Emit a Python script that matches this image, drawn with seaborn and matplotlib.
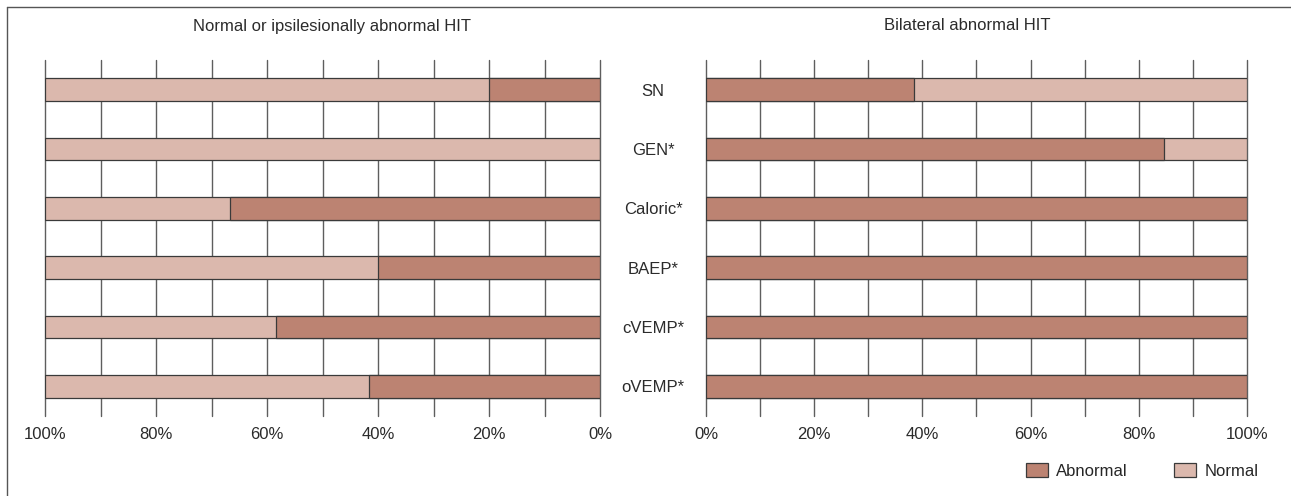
import matplotlib
matplotlib.use("Agg")
import matplotlib.pyplot as plt
import seaborn as sns
import pandas as pd
from matplotlib.patches import Patch
from matplotlib.lines import Line2D
from matplotlib.ticker import MultipleLocator, FuncFormatter

# ---- data ----
categories = ["SN", "GEN*", "Caloric*", "BAEP*", "cVEMP*", "oVEMP*"]
left_abnormal = [20.0, 0.0, 66.7, 40.0, 58.3, 41.7]        # Normal or ipsilesionally abnormal HIT
right_abnormal = [38.5, 84.6, 100.0, 100.0, 100.0, 100.0]  # Bilateral abnormal HIT
total = [100.0] * len(categories)
panel_titles = ["Normal or ipsilesionally abnormal HIT", "Bilateral abnormal HIT"]
legend_labels = ["Abnormal", "Normal"]

DARK = "#BC8372"
LIGHT = "#DBB8AD"
EDGE = "#3a3a3a"
TXT = "#2b2b2b"

sns.set_theme(style="white")
plt.rcParams["font.family"] = ["Liberation Sans", "DejaVu Sans"]
FS = 12

W, H = 1291, 496
fig = plt.figure(figsize=(W / 100, H / 100), dpi=100)

def fx(px):
    return px / W

def fy(px):
    return 1 - px / H

top_px, bot_px = 60, 416
axL = fig.add_axes([fx(45), fy(bot_px), fx(600 - 45), (bot_px - top_px) / H])
axR = fig.add_axes([fx(706), fy(bot_px), fx(1247 - 706), (bot_px - top_px) / H])

def draw(ax, abnormal):
    df_tot = pd.DataFrame({"cat": categories, "val": total})
    df_ab = pd.DataFrame({"cat": categories, "val": abnormal})
    sns.barplot(data=df_tot, y="cat", x="val", orient="h", color=LIGHT,
                saturation=1, edgecolor=EDGE, linewidth=0.9, width=0.38, ax=ax, zorder=3)
    sns.barplot(data=df_ab, y="cat", x="val", orient="h", color=DARK,
                saturation=1, edgecolor=EDGE, linewidth=0.9, width=0.38, ax=ax, zorder=4)
    ax.set_xlim(0, 100)
    ax.set_ylim(5.5, -0.5)
    ax.xaxis.set_major_locator(MultipleLocator(20))
    ax.xaxis.set_minor_locator(MultipleLocator(10))
    ax.xaxis.set_major_formatter(FuncFormatter(lambda v, p: f"{int(round(v))}%"))
    ax.grid(axis="x", which="both", color="#5e5e5e", linewidth=1.0, zorder=0)
    ax.set_axisbelow(True)
    for s in ax.spines.values():
        s.set_visible(False)
    ax.tick_params(axis="x", which="both", length=0, pad=8, labelsize=FS, colors=TXT)
    ax.set_xlabel("")
    ax.set_ylabel("")
    ax.set_facecolor("none")
    for tick in ax.xaxis.get_major_ticks() + ax.xaxis.get_minor_ticks():
        tick.gridline.set_clip_on(False)

draw(axL, left_abnormal)
axL.invert_xaxis()
axL.set_yticks([])

draw(axR, right_abnormal)
axR.tick_params(axis="y", length=0, pad=38, labelsize=FS, colors=TXT)
for t in axR.get_yticklabels():
    t.set_horizontalalignment("center")

# panel titles
fig.text(fx(332), fy(26), panel_titles[0], ha="center", va="center", fontsize=FS, color=TXT)
fig.text(fx(967), fy(26), panel_titles[1], ha="center", va="center", fontsize=FS, color=TXT)

# legend
handles = [Patch(facecolor=DARK, edgecolor=EDGE, linewidth=0.9),
           Patch(facecolor=LIGHT, edgecolor=EDGE, linewidth=0.9)]
fig.legend(handles, legend_labels, loc="center left", bbox_to_anchor=(fx(1026), fy(471)),
           ncol=2, frameon=False, fontsize=FS, handlelength=1.32, handleheight=0.85,
           handletextpad=0.48, columnspacing=2.8, borderaxespad=0, borderpad=0)

# outer frame (top and left edges)
fig.add_artist(Line2D([fx(7), 1.0], [fy(7), fy(7)], color="#555555", linewidth=1.0))
fig.add_artist(Line2D([fx(7), fx(7)], [fy(7), 0.0], color="#555555", linewidth=1.0))

fig.savefig("out.png", dpi=100)
